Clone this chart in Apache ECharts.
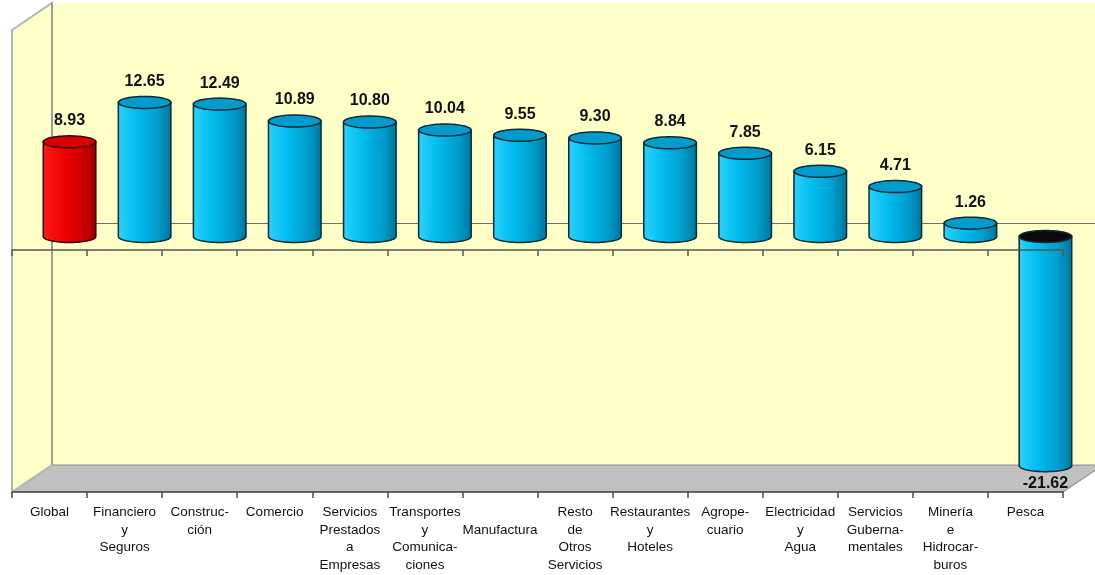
<!DOCTYPE html>
<html>
<head>
<meta charset="utf-8">
<script src="https://cdn.jsdelivr.net/npm/echarts@6/dist/echarts.min.js"></script>
<style>
  html, body { margin: 0; padding: 0; background: #ffffff; }
  #chart { width: 1095px; height: 575px; }
</style>
</head>
<body>
<div id="chart"></div>
<script>
// Sectores económicos y su variación porcentual
const categories = [
  'Global',
  'Financiero\ny\nSeguros',
  'Construc-\nción',
  'Comercio',
  'Servicios\nPrestados\na\nEmpresas',
  'Transportes\ny\nComunica-\nciones',
  '\nManufactura',
  'Resto\nde\nOtros\nServicios',
  'Restaurantes\ny\nHoteles',
  'Agrope-\ncuario',
  'Electricidad\ny\nAgua',
  'Servicios\nGuberna-\nmentales',
  'Minería\ne\nHidrocar-\nburos',
  'Pesca'
];
const values = [8.93, 12.65, 12.49, 10.89, 10.80, 10.04, 9.55, 9.30, 8.84, 7.85, 6.15, 4.71, 1.26, -21.62];
const highlighted = 'Global';

// box geometry: front plane, depth offset towards the back wall
const FRONT_LEFT = 12, FRONT_RIGHT = 1063, FRONT_TOP = 30, FRONT_BOTTOM = 492, FRONT_ZERO = 250;
const DEPTH_X = 40, DEPTH_Y = -27;
const PX_PER_UNIT = 10.6;
const W = 1095, H = 575;

// value range of the 3D box, derived from where zero sits inside it
const Y_MIN = -(FRONT_BOTTOM - FRONT_ZERO) / PX_PER_UNIT;
const Y_MAX = (FRONT_ZERO - FRONT_TOP) / PX_PER_UNIT;

function gridAt(f) {
  // f = 0 front plane, 0.5 middle (bars), 1 back wall
  const l = FRONT_LEFT + DEPTH_X * f;
  const r = FRONT_RIGHT + DEPTH_X * f;
  const t = FRONT_TOP + DEPTH_Y * f;
  const b = FRONT_BOTTOM + DEPTH_Y * f;
  return { left: l, top: t, width: r - l, height: b - t };
}

const gMid = gridAt(0.5), gFront = gridAt(0), gBack = gridAt(1);

const wallColor = '#FFFFC8';
const edgeColor = '#8C8C8C';

const blueBody = [
  { offset: 0, color: '#2ED2FF' },
  { offset: 0.35, color: '#00BDEE' },
  { offset: 0.75, color: '#009CCB' },
  { offset: 1, color: '#007499' }
];
const redBody = [
  { offset: 0, color: '#FF1A1A' },
  { offset: 0.4, color: '#F00000' },
  { offset: 0.8, color: '#C80000' },
  { offset: 1, color: '#960000' }
];

function ellipsePoints(cx, cy, rx, ry, a0, a1, n) {
  const pts = [];
  for (let k = 0; k <= n; k++) {
    const t = a0 + (a1 - a0) * k / n;
    pts.push([cx + rx * Math.cos(t), cy + ry * Math.sin(t)]);
  }
  return pts;
}

function renderCylinder(params, api) {
  const idx = api.value(0);
  const v = api.value(1);
  const base = api.coord([idx, 0]);
  const end = api.coord([idx, v]);
  const w = api.size([1, 0])[0] * 0.7;
  const cx = base[0], rx = w / 2, ry = 6;
  const top = Math.min(base[1], end[1]);
  const bot = Math.max(base[1], end[1]);
  const isHi = categories[idx] === highlighted;

  const body = [[cx - rx, top]]
    .concat(ellipsePoints(cx, bot, rx, ry, Math.PI, 0, 40))
    .concat([[cx + rx, top]]);
  const cap = ellipsePoints(cx, top, rx, ry, 0, Math.PI * 2, 60);

  let capFill;
  if (v < 0) capFill = '#0B0B0B';
  else capFill = isHi ? '#D60000' : '#039BCC';

  const stroke = isHi ? '#360000' : '#0A2A33';
  const label = v.toFixed(2);
  const ly = v < 0 ? bot + 18 : top - 21;

  return {
    type: 'group',
    children: [
      {
        type: 'polygon',
        shape: { points: body },
        style: {
          fill: { type: 'linear', x: 0, y: 0, x2: 1, y2: 0, colorStops: isHi ? redBody : blueBody },
          stroke: stroke, lineWidth: 1.5
        }
      },
      {
        type: 'polygon',
        shape: { points: cap },
        style: { fill: capFill, stroke: stroke, lineWidth: 1.5 }
      },
      {
        type: 'text',
        style: {
          text: label, x: cx, y: ly,
          align: 'center', verticalAlign: 'middle',
          font: 'bold 16px Arial, "Liberation Sans", sans-serif',
          fill: '#111111'
        }
      }
    ]
  };
}

const yHidden = (gi) => ({
  type: 'value', gridIndex: gi, min: Y_MIN, max: Y_MAX, show: false
});

const option = {
  animation: false,
  backgroundColor: '#ffffff',
  grid: [
    Object.assign({}, gMid, { containLabel: false }),
    Object.assign({}, gFront, { containLabel: false }),
    Object.assign({}, gBack, { containLabel: false })
  ],
  xAxis: [
    { type: 'category', gridIndex: 0, data: categories, show: false },
    {
      // front floor edge with category names
      type: 'category', gridIndex: 1, data: categories, position: 'bottom', z: 10,
      axisLine: { onZero: false, lineStyle: { color: '#4A4A4A', width: 1.5 } },
      axisTick: { show: true, interval: 0, length: 6, lineStyle: { color: '#4A4A4A', width: 1.5 } },
      axisLabel: {
        interval: 0, margin: 12, color: '#111111',
        fontFamily: 'Arial, "Liberation Sans", sans-serif', fontSize: 13.5, lineHeight: 17.5
      }
    },
    {
      // front zero line
      type: 'category', gridIndex: 1, data: categories, position: 'top', z: 10,
      axisLine: { onZero: true, lineStyle: { color: '#555555', width: 1.5 } },
      axisTick: { show: true, interval: 0, inside: true, length: 6, lineStyle: { color: '#555555', width: 1.5 } },
      axisLabel: { show: false }
    },
    {
      // zero line on the back wall
      type: 'category', gridIndex: 2, data: categories, position: 'top', z: 1,
      axisLine: { onZero: true, lineStyle: { color: '#6E6E6E', width: 1.2 } },
      axisTick: { show: false },
      axisLabel: { show: false }
    }
  ],
  yAxis: [yHidden(0), yHidden(1), yHidden(2)],
  graphic: [
    {
      type: 'rect', z: 0, silent: true,
      shape: { x: gBack.left, y: gBack.top, width: W - gBack.left, height: gBack.height },
      style: { fill: wallColor }
    },
    {
      type: 'polygon', z: 0, silent: true,
      shape: { points: [
        [FRONT_LEFT, FRONT_BOTTOM], [gBack.left, gBack.top + gBack.height],
        [gBack.left + gBack.width, gBack.top + gBack.height], [FRONT_RIGHT, FRONT_BOTTOM]
      ] },
      style: { fill: '#C0C0C0', stroke: edgeColor, lineWidth: 1.2 }
    },
    {
      type: 'polygon', z: 0, silent: true,
      shape: { points: [
        [FRONT_LEFT, FRONT_TOP], [gBack.left, gBack.top],
        [gBack.left, gBack.top + gBack.height], [FRONT_LEFT, FRONT_BOTTOM]
      ] },
      style: { fill: wallColor, stroke: '#B4B4B4', lineWidth: 2 }
    },
    {
      type: 'line', z: 0, silent: true,
      shape: { x1: gBack.left, y1: gBack.top, x2: gBack.left, y2: gBack.top + gBack.height },
      style: { stroke: edgeColor, lineWidth: 1.2 }
    }
  ],
  series: [
    {
      type: 'custom',
      xAxisIndex: 0, yAxisIndex: 0, z: 3,
      clip: false,
      renderItem: renderCylinder,
      encode: { x: 0, y: 1 },
      data: values.map((v, i) => [i, v])
    }
  ]
};

const chart = echarts.init(document.getElementById('chart'), null, { renderer: 'canvas' });
chart.setOption(option);
</script>
</body>
</html>
